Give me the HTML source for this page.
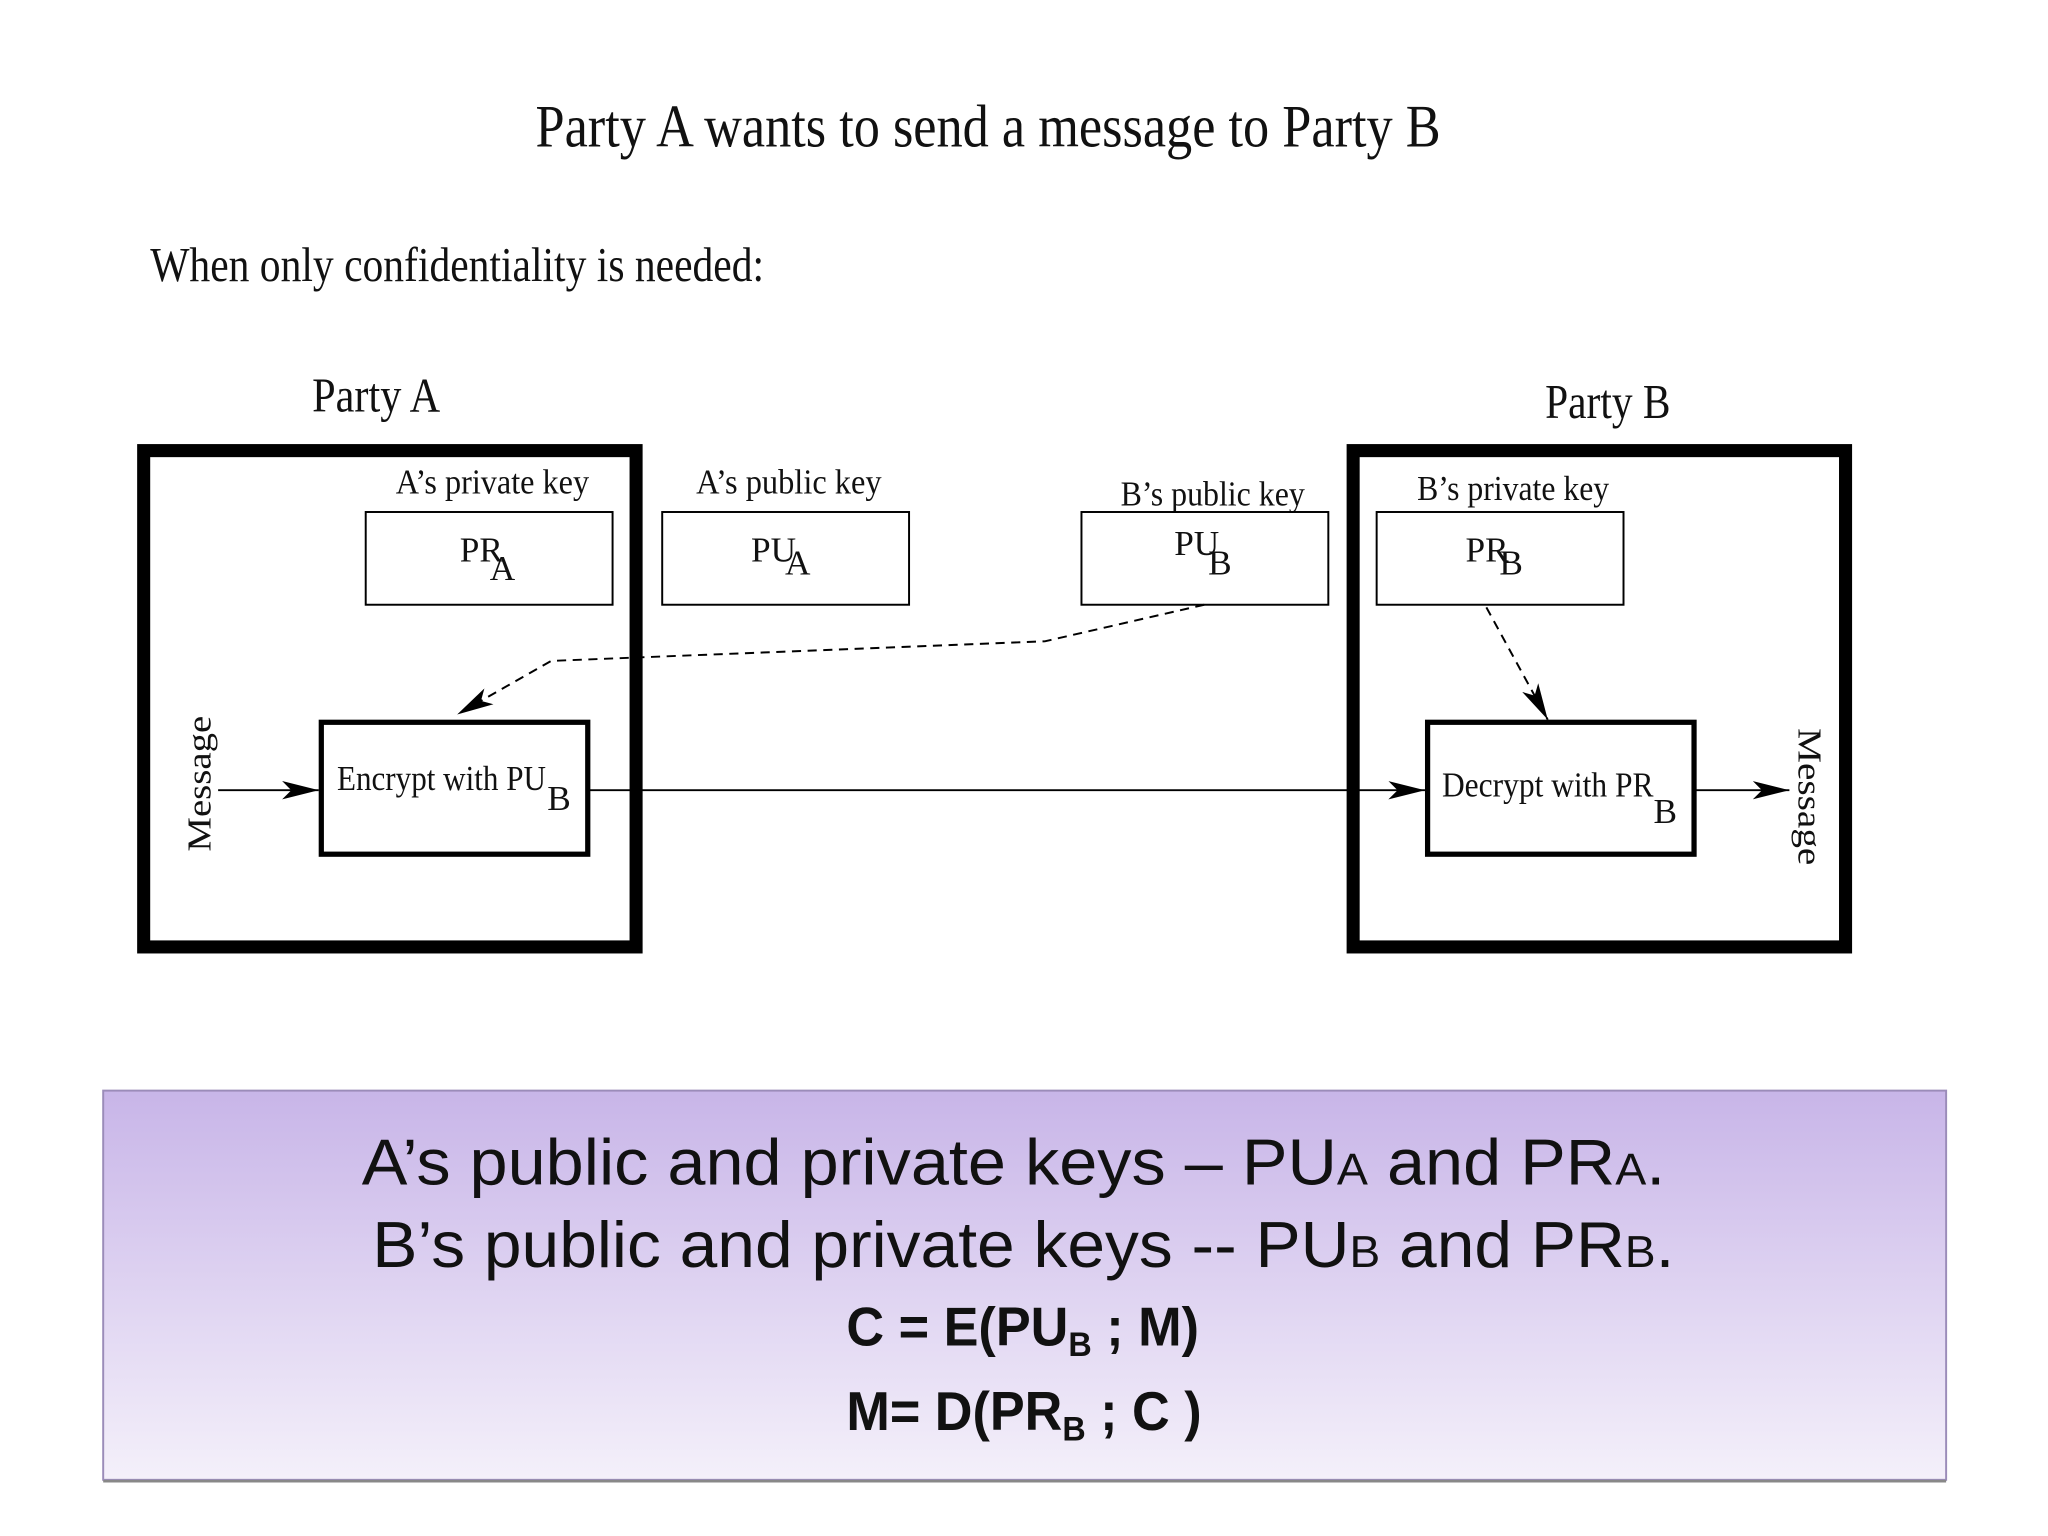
<!DOCTYPE html>
<html><head><meta charset="utf-8"><style>html,body{margin:0;padding:0;background:#fff}svg{display:block}</style></head>
<body>
<svg width="2048" height="1536" viewBox="0 0 1568 1176" xmlns="http://www.w3.org/2000/svg">
<defs>
<linearGradient id="g" x1="0" y1="0" x2="0" y2="1"><stop offset="0" stop-color="#c8b5e8"/><stop offset="1" stop-color="#f4f0fa"/></linearGradient>
<marker id="ar" viewBox="0 0 28 14" refX="28" refY="7" markerWidth="28" markerHeight="14" markerUnits="userSpaceOnUse" orient="auto"><path d="M0,0 L28,7 L0,14 L7,7 Z" fill="#000"/></marker>
</defs>
<g font-family="Liberation Serif, serif" fill="#111">
<text x="410" y="112" font-size="46" textLength="693" lengthAdjust="spacingAndGlyphs">Party A wants to send a message to Party B</text>
<text x="115" y="215" font-size="37" textLength="470" lengthAdjust="spacingAndGlyphs">When only confidentiality is needed:</text>
<text x="239" y="315" font-size="37" textLength="98" lengthAdjust="spacingAndGlyphs">Party A</text>
<text x="1183" y="320" font-size="37" textLength="96" lengthAdjust="spacingAndGlyphs">Party B</text>
<text x="303" y="378" font-size="27" textLength="148" lengthAdjust="spacingAndGlyphs">A’s private key</text>
<text x="533" y="378" font-size="27" textLength="142" lengthAdjust="spacingAndGlyphs">A’s public key</text>
<text x="858" y="387" font-size="27" textLength="141" lengthAdjust="spacingAndGlyphs">B’s public key</text>
<text x="1085" y="383" font-size="27" textLength="147" lengthAdjust="spacingAndGlyphs">B’s private key</text>
<text x="352" y="430" font-size="27">PR</text><text x="375" y="444" font-size="27">A</text>
<text x="575" y="430" font-size="27">PU</text><text x="601" y="440" font-size="27">A</text>
<text x="899" y="425" font-size="27">PU</text><text x="925" y="440" font-size="27">B</text>
<text x="1122" y="430" font-size="27">PR</text><text x="1148" y="440" font-size="27">B</text>
<text x="258" y="605" font-size="27" textLength="160" lengthAdjust="spacingAndGlyphs">Encrypt with PU</text><text x="419" y="620" font-size="27">B</text>
<text x="1104" y="610" font-size="27" textLength="162" lengthAdjust="spacingAndGlyphs">Decrypt with PR</text><text x="1266" y="630" font-size="27">B</text>
<text transform="translate(161,600) rotate(-90)" text-anchor="middle" font-size="26" textLength="104" lengthAdjust="spacingAndGlyphs">Message</text>
<text transform="translate(1377,610) rotate(90)" text-anchor="middle" font-size="26" textLength="105" lengthAdjust="spacingAndGlyphs">Message</text>
</g>
<g fill="none" stroke="#000">
<rect x="110" y="345" width="377" height="380" stroke-width="10"/>
<rect x="1036" y="345" width="377" height="380" stroke-width="10"/>
<rect x="280" y="392" width="189" height="71" stroke-width="1.5"/>
<rect x="507" y="392" width="189" height="71" stroke-width="1.5"/>
<rect x="828" y="392" width="189" height="71" stroke-width="1.5"/>
<rect x="1054" y="392" width="189" height="71" stroke-width="1.5"/>
<rect x="246" y="553" width="204" height="101" stroke-width="4"/>
<rect x="1093" y="553" width="204" height="101" stroke-width="4"/>
<line x1="167" y1="605" x2="244" y2="605" stroke-width="1.5" marker-end="url(#ar)"/>
<line x1="451" y1="605" x2="1091" y2="605" stroke-width="1.5" marker-end="url(#ar)"/>
<line x1="1298" y1="605" x2="1370" y2="605" stroke-width="1.5" marker-end="url(#ar)"/>
<polyline points="922,463 800,491 422,506 350,547" stroke-width="1.5" stroke-dasharray="7,5" marker-end="url(#ar)"/>
<line x1="1138" y1="465" x2="1185" y2="551" stroke-width="1.5" stroke-dasharray="7,5" marker-end="url(#ar)"/>
</g>
<rect x="79" y="835" width="1411" height="298" fill="url(#g)" stroke="#9b8cb9" stroke-width="1.5"/>
<line x1="79" y1="1134" x2="1490" y2="1134" stroke="#888" stroke-width="2"/>
<g font-family="Liberation Sans, sans-serif" fill="#111">
<text x="277" y="907" font-size="50" textLength="998" lengthAdjust="spacingAndGlyphs">A’s public and private keys – PU<tspan font-size="34">A</tspan> and PR<tspan font-size="34">A</tspan>.</text>
<text x="285" y="970" font-size="50" textLength="997" lengthAdjust="spacingAndGlyphs">B’s public and private keys -- PU<tspan font-size="34">B</tspan> and PR<tspan font-size="34">B</tspan>.</text>
<text x="648" y="1030" font-size="42" font-weight="bold" textLength="270" lengthAdjust="spacingAndGlyphs">C = E(PU<tspan font-size="26" dy="8">B</tspan><tspan dy="-8"> ; M)</tspan></text>
<text x="648" y="1095" font-size="42" font-weight="bold" textLength="272" lengthAdjust="spacingAndGlyphs">M= D(PR<tspan font-size="26" dy="8">B</tspan><tspan dy="-8"> ; C )</tspan></text>
</g>
</svg>
</body></html>
